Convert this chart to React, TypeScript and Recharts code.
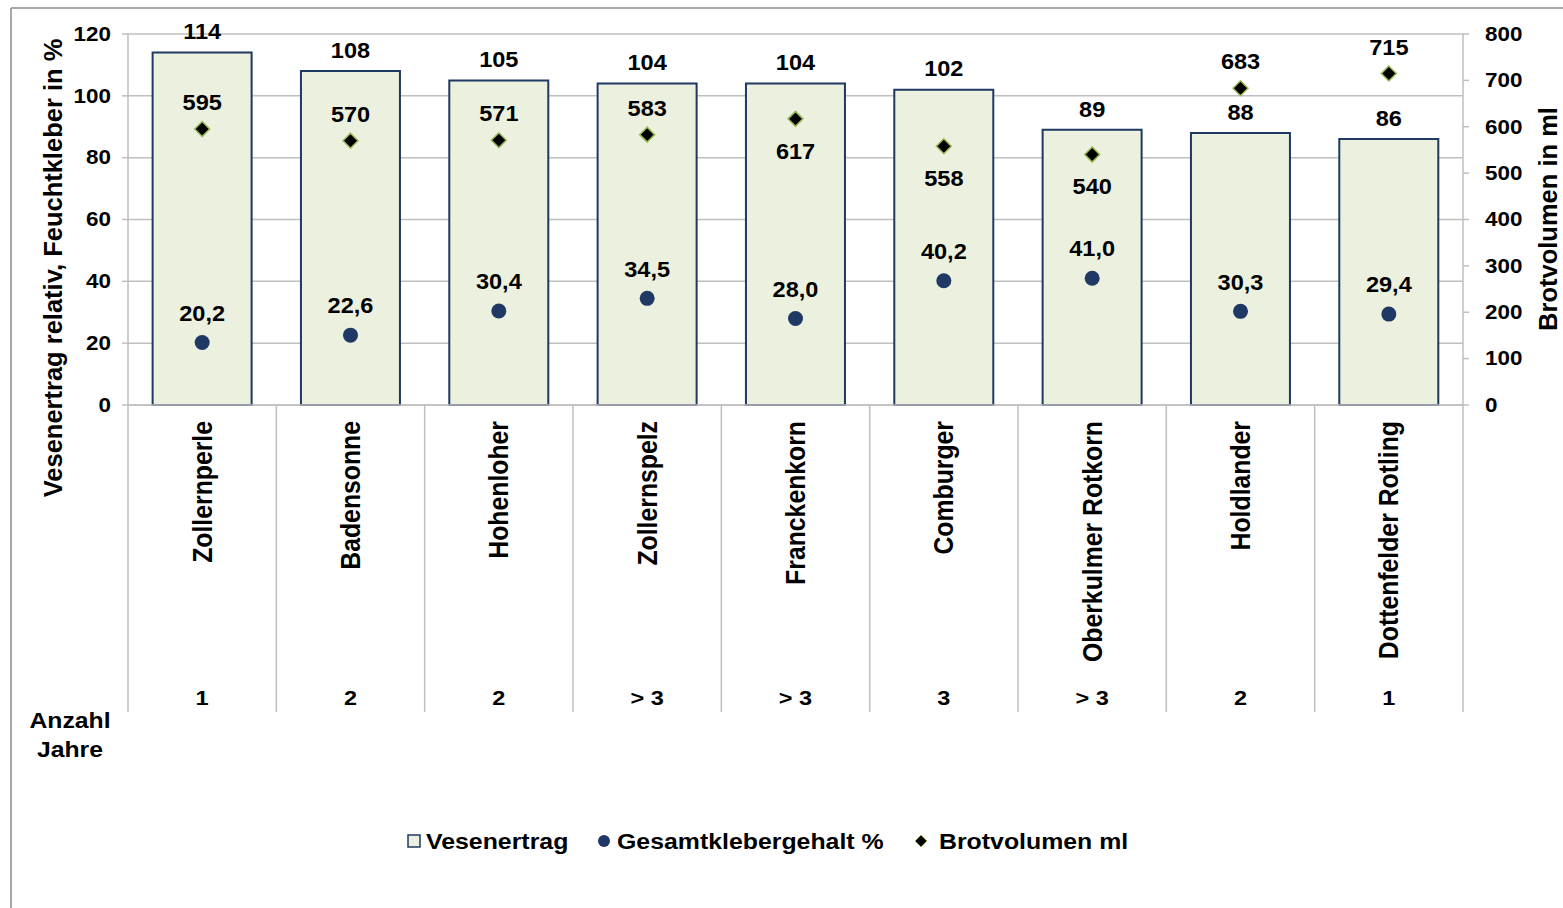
import React from 'react';
import { ComposedChart, Bar, Line, XAxis, YAxis, CartesianGrid, LabelList } from 'recharts';

const categories = ['Zollernperle', 'Badensonne', 'Hohenloher', 'Zollernspelz', 'Franckenkorn', 'Comburger', 'Oberkulmer Rotkorn', 'Holdlander', 'Dottenfelder Rotling'];
const vesenertrag = [114, 108, 105, 104, 104, 102, 89, 88, 86];
const kleber = [20.2, 22.6, 30.4, 34.5, 28.0, 40.2, 41.0, 30.3, 29.4];
const brotvolumen = [595, 570, 571, 583, 617, 558, 540, 683, 715];
const jahre = ['1', '2', '2', '> 3', '> 3', '3', '> 3', '2', '1'];
const brotLabelBelow = [false, false, false, false, true, true, true, false, false];
const leftTicks = [0, 20, 40, 60, 80, 100, 120];
const rightTicks = [0, 100, 200, 300, 400, 500, 600, 700, 800];

const data = categories.map((name, i) => ({
  name,
  vesenertrag: vesenertrag[i],
  kleber: kleber[i],
  brot: brotvolumen[i],
  jahre: jahre[i],
  below: brotLabelBelow[i],
}));

const W = 1563;
const H = 908;
const PLOT_LEFT = 128;
const PLOT_RIGHT = 1463;
const PLOT_TOP = 34;
const PLOT_BOTTOM = 405;
const SEP_BOTTOM = 712;
const FONT = '"Liberation Sans", Arial, sans-serif';
const NAVY = '#1F3864';
const BAR_FILL = '#EBF1DE';
const DIAMOND_STROKE = '#9BBB59';
const GRID = '#BFBFBF';

type STProps = { x: number; y: number; sx?: number; size: number; anchor?: 'start' | 'middle' | 'end'; rotate?: boolean; children: React.ReactNode };
function SText({ x, y, sx = 1.2, size, anchor = 'middle', rotate = false, children }: STProps) {
  return (
    <g transform={`translate(${x},${y}) scale(${sx},1)${rotate ? ' rotate(-90)' : ''}`}>
      <text textAnchor={anchor} dy="0.35em" fontSize={size} fontWeight="bold" fontFamily={FONT} fill="#000">
        {children}
      </text>
    </g>
  );
}

const fmt = (v: number) => v.toFixed(1).replace('.', ',');

function XTick(props: any) {
  const { x, index, payload } = props;
  const band = (PLOT_RIGHT - PLOT_LEFT) / categories.length;
  const left = x - band / 2;
  return (
    <g>
      <line x1={left} x2={left} y1={PLOT_BOTTOM} y2={SEP_BOTTOM} stroke={GRID} strokeWidth={1.5} />
      {index === categories.length - 1 && (
        <line x1={left + band} x2={left + band} y1={PLOT_BOTTOM} y2={SEP_BOTTOM} stroke={GRID} strokeWidth={1.5} />
      )}
      <SText x={x} y={421} size={24.8} sx={1.1} anchor="end" rotate>
        {payload.value}
      </SText>
      <SText x={x} y={698} size={21} sx={1.12}>
        {jahre[index]}
      </SText>
      {index === 0 && (
        <g>
          <SText x={70} y={720} size={21.5} sx={1.15}>Anzahl</SText>
          <SText x={70} y={749} size={21.5} sx={1.15}>Jahre</SText>
        </g>
      )}
    </g>
  );
}

function LeftTick(props: any) {
  const { x, y, payload } = props;
  return (
    <SText x={x - 9} y={y} size={19.5} sx={1.15} anchor="end">
      {payload.value}
    </SText>
  );
}

function RightTick(props: any) {
  const { x, y, payload } = props;
  return (
    <SText x={x + 14} y={y} size={19.5} sx={1.15} anchor="start">
      {payload.value}
    </SText>
  );
}

function BarLabel(props: any) {
  const { x, y, width, value } = props;
  return (
    <SText x={x + width / 2} y={y - 21} size={22} sx={1.07}>
      {value}
    </SText>
  );
}

function KleberLabel(props: any) {
  const { x, y, value } = props;
  return (
    <SText x={x} y={y - 29.5} size={22} sx={1.07}>
      {fmt(value)}
    </SText>
  );
}

function BrotLabel(props: any) {
  const { x, y, value, index } = props;
  const below = brotLabelBelow[index];
  return (
    <SText x={x} y={below ? y + 32 : y - 26.5} size={22} sx={1.07}>
      {value}
    </SText>
  );
}

function Dot(props: any) {
  const { cx, cy, index } = props;
  if (cx == null || cy == null) return <g key={`d${index}`} />;
  return <circle key={`d${index}`} cx={cx} cy={cy} r={7.5} fill={NAVY} />;
}

function Diamond(props: any) {
  const { cx, cy, index } = props;
  if (cx == null || cy == null) return <g key={`m${index}`} />;
  const r = 7.5;
  return (
    <polygon
      key={`m${index}`}
      points={`${cx},${cy - r} ${cx + r},${cy} ${cx},${cy + r} ${cx - r},${cy}`}
      fill="#000"
      stroke={DIAMOND_STROKE}
      strokeWidth={1.5}
    />
  );
}

function LeftTitle() {
  return (
    <SText x={53} y={268} size={25.5} sx={1.02} rotate>
      Vesenertrag relativ, Feuchtkleber in %
    </SText>
  );
}

function RightTitle() {
  return (
    <SText x={1548} y={219} size={25.5} sx={1.02} rotate>
      Brotvolumen in ml
    </SText>
  );
}

function LegendOverlay() {
  const cy = 841;
  return (
    <svg width={W} height={H} style={{ position: 'absolute', left: 0, top: 0, pointerEvents: 'none' }}>
      <line x1={11} y1={8} x2={W} y2={8} stroke="#8C8C8C" strokeWidth={1.5} />
      <line x1={11} y1={8} x2={11} y2={H} stroke="#8C8C8C" strokeWidth={1.5} />
      <rect x={408} y={cy - 6} width={12} height={12} fill={BAR_FILL} stroke={NAVY} strokeWidth={1.5} />
      <SText x={426} y={cy} size={22} sx={1.13} anchor="start">Vesenertrag</SText>
      <circle cx={604} cy={cy} r={6} fill={NAVY} />
      <SText x={617} y={cy} size={22} sx={1.13} anchor="start">Gesamtklebergehalt %</SText>
      <polygon points={`921,${cy - 6} 927,${cy} 921,${cy + 6} 915,${cy}`} fill="#000" stroke={DIAMOND_STROKE} strokeWidth={1} />
      <SText x={939} y={cy} size={22} sx={1.13} anchor="start">Brotvolumen ml</SText>
    </svg>
  );
}

export default function App() {
  return (
    <div style={{ position: 'absolute', left: 0, top: 0, width: W, height: H, overflow: 'hidden', background: '#fff' }}>
      <div style={{ position: 'absolute', left: 0, top: 0 }}>
        <ComposedChart
          width={W}
          height={H}
          data={data}
          margin={{ top: PLOT_TOP, right: 0, bottom: 0, left: 0 }}
          barCategoryGap="16.6%"
        >
          <CartesianGrid yAxisId="left" vertical={false} stroke={GRID} strokeWidth={1.5} />
          <XAxis
            dataKey="name"
            type="category"
            height={H - PLOT_BOTTOM}
            axisLine={{ stroke: GRID, strokeWidth: 1.5 }}
            tickLine={false}
            tick={<XTick />}
            interval={0}
          />
          <YAxis
            yAxisId="left"
            orientation="left"
            width={PLOT_LEFT}
            domain={[0, 120]}
            ticks={leftTicks}
            interval={0}
            axisLine={{ stroke: GRID, strokeWidth: 1.5 }}
            tickLine={{ stroke: GRID, strokeWidth: 1.5 }}
            tickSize={6}
            tick={<LeftTick />}
            label={<LeftTitle />}
          />
          <YAxis
            yAxisId="right"
            orientation="right"
            width={W - PLOT_RIGHT}
            domain={[0, 800]}
            ticks={rightTicks}
            interval={0}
            axisLine={{ stroke: GRID, strokeWidth: 1.5 }}
            tickLine={{ stroke: GRID, strokeWidth: 1.5 }}
            tickSize={6}
            tick={<RightTick />}
            label={<RightTitle />}
          />
          <Bar yAxisId="left" dataKey="vesenertrag" fill={BAR_FILL} stroke={NAVY} strokeWidth={2} isAnimationActive={false}>
            <LabelList dataKey="vesenertrag" content={<BarLabel />} />
          </Bar>
          <Line
            yAxisId="left"
            dataKey="kleber"
            stroke="none"
            strokeWidth={0}
            dot={<Dot />}
            activeDot={false}
            isAnimationActive={false}
          >
            <LabelList dataKey="kleber" content={<KleberLabel />} />
          </Line>
          <Line
            yAxisId="right"
            dataKey="brot"
            stroke="none"
            strokeWidth={0}
            dot={<Diamond />}
            activeDot={false}
            isAnimationActive={false}
          >
            <LabelList dataKey="brot" content={<BrotLabel />} />
          </Line>
        </ComposedChart>
      </div>
      <LegendOverlay />
    </div>
  );
}
